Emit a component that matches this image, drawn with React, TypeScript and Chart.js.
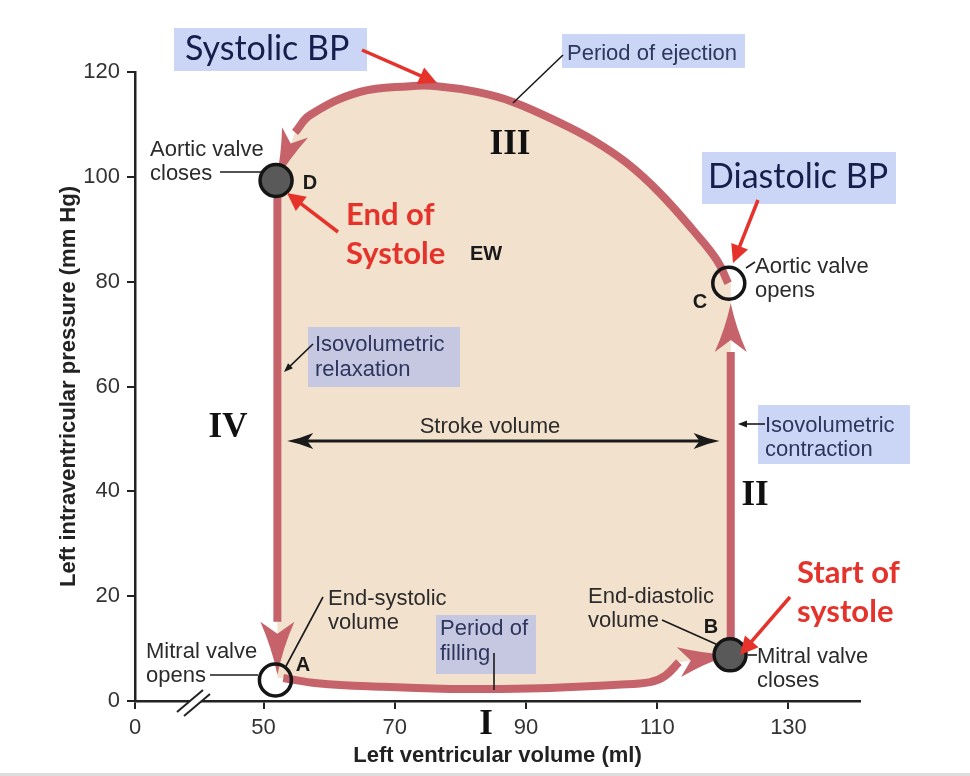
import React, { useEffect, useRef } from 'react';
import { Chart, registerables } from 'chart.js';

Chart.register(...registerables);

// ---------- axis ----------
const xAxisMin = 30.4; // broken-axis origin, labelled "0"
const xAxisMax = 140.9;
const xTickValues = [30.4, 50, 70, 90, 110, 130];
const xTickLabels = ['0', '50', '70', '90', '110', '130'];
const yAxisMin = 0;
const yAxisMax = 120;
const yTickStep = 20;

// ---------- valve events (A, B, C, D) ----------
const valveLabels = ['A', 'B', 'C', 'D'];
const valveVolume = [51.8, 121.1, 120.9, 51.9];
const valvePressure = [4.0, 8.8, 79.7, 99.3];
const valveClosed = [false, true, false, true];

// ---------- phase I: filling (A -> B) ----------
const fillingVolume = [53.0, 58.2, 68.2, 78.4, 85.3, 93.7, 103.9, 108.9, 111.2, 113.3];
const fillingPressure = [4.4, 3.4, 2.7, 2.3, 2.3, 2.5, 3.1, 3.6, 4.8, 7.4];

// ---------- phase II: isovolumetric contraction (B -> C) ----------
const contractionVolume = 121.2;
const contractionPressure = [8.8, 66.6];
const contractionArrowTip = 75.9;

// ---------- phase III: ejection (C -> D) ----------
const ejectionVolume = [120.8, 119.1, 115.4, 110.4, 105.4, 100.2, 95.2, 88.0, 82.5, 76.4, 72.3, 64.7, 57.1, 54.8];
const ejectionPressure = [79.7, 84.1, 89.9, 96.9, 102.6, 107.0, 110.3, 114.3, 116.2, 117.3, 117.3, 116.2, 111.8, 108.5];

// ---------- phase IV: isovolumetric relaxation (D -> A) ----------
const relaxationVolume = 52.1;
const relaxationPressure = [99.3, 15.1];
const relaxationArrowTip = 5.0;

// ---------- stroke volume ----------
const strokeVolumeRange = [53.6, 119.5];
const strokeVolumePressure = 49.6;

// ---------- styles ----------
const LOOP_COLOR = '#C6626A';
const FILL_COLOR = '#F2E1CC';
const RED = '#E5332C';
const NAVY = '#161E4C';
const BOX_TEXT = '#2E365E';
const LABEL_TEXT = '#2b2b2b';
const BOX_FILL = 'rgba(160,180,240,0.55)';
const AXIS_COLOR = '#222222';
const SANS = '"Liberation Sans", Arial, sans-serif';

function harpoon(ctx: CanvasRenderingContext2D, bx: number, by: number, tx: number, ty: number, halfW: number, notch: number, color: string) {
  const dx = tx - bx, dy = ty - by;
  const len = Math.hypot(dx, dy);
  const ux = dx / len, uy = dy / len;
  const nx = -uy, ny = ux;
  const b1x = bx + nx * halfW, b1y = by + ny * halfW;
  const b2x = bx - nx * halfW, b2y = by - ny * halfW;
  const mx = bx + ux * notch, my = by + uy * notch;
  const cx = tx - ux * len * 0.5, cy = ty - uy * len * 0.5;
  const c1x = cx + nx * halfW * 0.32, c1y = cy + ny * halfW * 0.32;
  const c2x = cx - nx * halfW * 0.32, c2y = cy - ny * halfW * 0.32;
  ctx.save();
  ctx.fillStyle = color;
  ctx.beginPath();
  ctx.moveTo(tx, ty);
  ctx.quadraticCurveTo(c1x, c1y, b1x, b1y);
  ctx.lineTo(mx, my);
  ctx.lineTo(b2x, b2y);
  ctx.quadraticCurveTo(c2x, c2y, tx, ty);
  ctx.closePath();
  ctx.fill();
  ctx.restore();
}

function arrowLine(ctx: CanvasRenderingContext2D, x1: number, y1: number, x2: number, y2: number, color: string, width: number, headLen: number, headHalf: number) {
  const dx = x2 - x1, dy = y2 - y1;
  const len = Math.hypot(dx, dy);
  const ux = dx / len, uy = dy / len;
  ctx.save();
  ctx.strokeStyle = color;
  ctx.lineWidth = width;
  ctx.beginPath();
  ctx.moveTo(x1, y1);
  ctx.lineTo(x2 - ux * headLen * 0.7, y2 - uy * headLen * 0.7);
  ctx.stroke();
  ctx.fillStyle = color;
  ctx.beginPath();
  ctx.moveTo(x2, y2);
  ctx.lineTo(x2 - ux * headLen - uy * headHalf, y2 - uy * headLen + ux * headHalf);
  ctx.lineTo(x2 - ux * headLen + uy * headHalf, y2 - uy * headLen - ux * headHalf);
  ctx.closePath();
  ctx.fill();
  ctx.restore();
}

function line(ctx: CanvasRenderingContext2D, x1: number, y1: number, x2: number, y2: number, color: string, width: number) {
  ctx.save();
  ctx.strokeStyle = color;
  ctx.lineWidth = width;
  ctx.beginPath();
  ctx.moveTo(x1, y1);
  ctx.lineTo(x2, y2);
  ctx.stroke();
  ctx.restore();
}

function txt(ctx: CanvasRenderingContext2D, s: string, x: number, y: number, font: string, color: string, align: CanvasTextAlign = 'left', baseline: CanvasTextBaseline = 'alphabetic') {
  ctx.save();
  ctx.font = font;
  ctx.fillStyle = color;
  ctx.textAlign = align;
  ctx.textBaseline = baseline;
  ctx.fillText(s, x, y);
  ctx.restore();
}

export default function App() {
  const ref = useRef<HTMLCanvasElement>(null);

  useEffect(() => {
    const canvas = ref.current;
    if (!canvas) return;
    const pt = (x: number, y: number) => ({ x, y });

    const fillingData = fillingVolume.map((v, i) => pt(v, fillingPressure[i]));
    const contractionData = contractionPressure.map((p) => pt(contractionVolume, p));
    const ejectionData = ejectionVolume.map((v, i) => pt(v, ejectionPressure[i]));
    const relaxationData = relaxationPressure.map((p) => pt(relaxationVolume, p));
    const valveData = valveVolume.map((v, i) => pt(v, valvePressure[i]));
    const loopShape = [
      pt(relaxationVolume, fillingPressure[0]),
      ...fillingData,
      pt(contractionVolume, valvePressure[1]),
      pt(contractionVolume, valvePressure[2]),
      ...ejectionData,
      pt(relaxationVolume, valvePressure[3]),
    ];

    const arrowTips: Record<number, { x: number; y: number; halfW: number }> = {
      1: { ...pt(valveVolume[1], valvePressure[1]), halfW: 15 },
      2: { ...pt(contractionVolume, contractionArrowTip), halfW: 16 },
      3: { ...pt(valveVolume[3], valvePressure[3]), halfW: 14 },
      4: { ...pt(relaxationVolume, relaxationArrowTip), halfW: 17 },
    };

    const loopArrowPlugin = {
      id: 'loopArrows',
      afterDatasetDraw(chart: any, args: any) {
        const tip = arrowTips[args.index];
        if (!tip) return;
        const data = chart.data.datasets[args.index].data;
        const last = data[data.length - 1];
        const xs = chart.scales.x, ys = chart.scales.y;
        harpoon(chart.ctx, xs.getPixelForValue(last.x), ys.getPixelForValue(last.y), xs.getPixelForValue(tip.x), ys.getPixelForValue(tip.y), tip.halfW, 12, LOOP_COLOR);
      },
    };

    const annotationPlugin = {
      id: 'annotations',
      afterDatasetsDraw(chart: any) {
        const ctx: CanvasRenderingContext2D = chart.ctx;
        const xs = chart.scales.x, ys = chart.scales.y;

        // axis break
        ctx.save();
        ctx.fillStyle = '#ffffff';
        ctx.beginPath();
        ctx.moveTo(177, 712); ctx.lineTo(203, 690); ctx.lineTo(210, 694); ctx.lineTo(184, 716); ctx.closePath();
        ctx.fill();
        ctx.restore();
        line(ctx, 177, 712, 203, 690, AXIS_COLOR, 2);
        line(ctx, 184, 716, 210, 694, AXIS_COLOR, 2);

        // stroke volume double arrow
        const sy = ys.getPixelForValue(strokeVolumePressure);
        const sx1 = xs.getPixelForValue(strokeVolumeRange[0]);
        const sx2 = xs.getPixelForValue(strokeVolumeRange[1]);
        line(ctx, sx1 + 12, sy, sx2 - 12, sy, '#1a1a1a', 3);
        harpoon(ctx, sx1 + 26, sy, sx1, sy, 8, 6, '#1a1a1a');
        harpoon(ctx, sx2 - 26, sy, sx2, sy, 8, 6, '#1a1a1a');
        txt(ctx, 'Stroke volume', 490, 433, `22px ${SANS}`, LABEL_TEXT, 'center');

        // label boxes
        const boxes = [
          [174, 28, 193, 43],
          [562, 34, 183, 34],
          [702, 152, 194, 52],
          [308, 327, 152, 60],
          [758, 405, 152, 59],
          [436, 615, 100, 59],
        ];
        ctx.save();
        ctx.fillStyle = BOX_FILL;
        boxes.forEach(([x, y, w, h]) => ctx.fillRect(x, y, w, h));
        ctx.restore();

        // leader lines
        line(ctx, 220, 172, 262, 172, '#1a1a1a', 1.6);
        line(ctx, 563, 55, 513, 103, '#1a1a1a', 1.6);
        line(ctx, 746, 268, 755, 262, '#1a1a1a', 1.6);
        line(ctx, 323, 597, 285, 668, '#1a1a1a', 1.6);
        line(ctx, 210, 675, 258, 675, '#1a1a1a', 1.6);
        line(ctx, 494, 653, 494, 690, '#1a1a1a', 1.6);
        line(ctx, 662, 620, 718, 645, '#1a1a1a', 1.6);
        line(ctx, 748, 655, 757, 655, '#1a1a1a', 1.6);
        arrowLine(ctx, 313, 344, 284, 372, '#1a1a1a', 1.6, 9, 3.5);
        arrowLine(ctx, 765, 424, 738, 424, '#1a1a1a', 1.6, 9, 3.5);

        // box texts
        const bf = `22px ${SANS}`;
        txt(ctx, 'Period of ejection', 567, 60, bf, BOX_TEXT);
        txt(ctx, 'Isovolumetric', 315, 351, bf, BOX_TEXT);
        txt(ctx, 'relaxation', 315, 376, bf, BOX_TEXT);
        txt(ctx, 'Isovolumetric', 765, 432, bf, BOX_TEXT);
        txt(ctx, 'contraction', 765, 456, bf, BOX_TEXT);
        txt(ctx, 'Period of', 440, 635, bf, BOX_TEXT);
        txt(ctx, 'filling', 440, 660, bf, BOX_TEXT);

        // plain labels
        txt(ctx, 'Aortic valve', 150, 156, bf, LABEL_TEXT);
        txt(ctx, 'closes', 150, 180, bf, LABEL_TEXT);
        txt(ctx, 'Aortic valve', 755, 273, bf, LABEL_TEXT);
        txt(ctx, 'opens', 755, 297, bf, LABEL_TEXT);
        txt(ctx, 'Mitral valve', 146, 658, bf, LABEL_TEXT);
        txt(ctx, 'opens', 146, 682, bf, LABEL_TEXT);
        txt(ctx, 'End-systolic', 328, 605, bf, LABEL_TEXT);
        txt(ctx, 'volume', 328, 629, bf, LABEL_TEXT);
        txt(ctx, 'End-diastolic', 588, 603, bf, LABEL_TEXT);
        txt(ctx, 'volume', 588, 627, bf, LABEL_TEXT);
        txt(ctx, 'Mitral valve', 757, 663, bf, LABEL_TEXT);
        txt(ctx, 'closes', 757, 687, bf, LABEL_TEXT);

        // point letters
        const lf = `bold 20px ${SANS}`;
        txt(ctx, 'A', 303, 665, lf, '#1a1a1a', 'center', 'middle');
        txt(ctx, 'B', 711, 627, lf, '#1a1a1a', 'center', 'middle');
        txt(ctx, 'C', 700, 302, lf, '#1a1a1a', 'center', 'middle');
        txt(ctx, 'D', 310, 183, lf, '#1a1a1a', 'center', 'middle');
        txt(ctx, 'EW', 486, 254, lf, '#1a1a1a', 'center', 'middle');

        // phase numerals
        const rf = 'bold 35px "Liberation Serif", "Times New Roman", serif';
        txt(ctx, 'III', 510, 145, rf, '#111', 'center', 'middle');
        txt(ctx, 'IV', 228, 428, rf, '#111', 'center', 'middle');
        txt(ctx, 'II', 755, 496, rf, '#111', 'center', 'middle');
        txt(ctx, 'I', 486, 725, rf, '#111', 'center', 'middle');

        // big callouts
        const nf = '34px Lato, "Noto Sans", sans-serif';
        txt(ctx, 'Systolic BP', 185, 60, nf, NAVY);
        txt(ctx, 'Diastolic BP', 708, 188, nf, NAVY);
        const redf = 'bold 31px Lato, "Noto Sans", sans-serif';
        txt(ctx, 'End of', 346, 225, redf, RED);
        txt(ctx, 'Systole', 346, 264, redf, RED);
        txt(ctx, 'Start of', 797, 583, redf, RED);
        txt(ctx, 'systole', 797, 622, redf, RED);

        // red arrows
        arrowLine(ctx, 362, 50, 437, 83, RED, 3.5, 18, 9);
        arrowLine(ctx, 338, 232, 287, 193, RED, 3.5, 18, 9);
        arrowLine(ctx, 758, 200, 733, 263, RED, 3.5, 18, 9);
        arrowLine(ctx, 790, 597, 740, 655, RED, 3.5, 18, 9);

        // bottom frame strip
        ctx.save();
        ctx.fillStyle = '#dcdcdc';
        ctx.fillRect(0, 773, chart.width, 3);
        ctx.restore();
      },
    };

    const lineDs = (data: any[]) => ({
      data,
      borderColor: LOOP_COLOR,
      borderWidth: 8,
      tension: 0.4,
      pointRadius: 0,
      pointHoverRadius: 0,
      fill: false,
      borderCapStyle: 'butt',
      borderJoinStyle: 'round',
    });

    const chart = new Chart(canvas, {
      type: 'line',
      data: {
        datasets: [
          {
            label: 'Valves',
            data: valveData,
            showLine: false,
            pointRadius: 16,
            pointHoverRadius: 16,
            pointBackgroundColor: valveClosed.map((c) => (c ? '#595959' : 'rgba(0,0,0,0)')),
            pointBorderColor: '#151515',
            pointBorderWidth: 3.5,
            pointHoverBorderWidth: 3.5,
          } as any,
          { label: 'Filling', ...lineDs(fillingData) } as any,
          { label: 'Isovolumetric contraction', ...lineDs(contractionData) } as any,
          { label: 'Ejection', ...lineDs(ejectionData) } as any,
          { label: 'Isovolumetric relaxation', ...lineDs(relaxationData) } as any,
          {
            label: 'Loop area',
            data: loopShape,
            borderWidth: 0,
            borderColor: 'rgba(0,0,0,0)',
            backgroundColor: FILL_COLOR,
            fill: 'shape',
            tension: 0,
            pointRadius: 0,
            pointHoverRadius: 0,
          } as any,
        ],
      },
      options: {
        animation: false,
        responsive: false,
        devicePixelRatio: 1,
        events: [],
        layout: { padding: { left: 0, top: 72, right: 110, bottom: 0 } },
        plugins: {
          legend: { display: false },
          tooltip: { enabled: false },
        },
        scales: {
          x: {
            type: 'linear',
            min: xAxisMin,
            max: xAxisMax,
            afterBuildTicks: (scale: any) => {
              scale.ticks = xTickValues.map((v) => ({ value: v }));
            },
            afterFit: (scale: any) => {
              scale.height = 75;
            },
            ticks: {
              autoSkip: false,
              maxRotation: 0,
              padding: 6,
              color: '#333',
              font: { family: 'Liberation Sans', size: 22 },
              callback: (_v: any, i: number) => xTickLabels[i],
            },
            grid: { display: true, drawOnChartArea: false, drawTicks: true, tickLength: 8, color: AXIS_COLOR, lineWidth: 2 },
            border: { display: true, color: AXIS_COLOR, width: 2.5 },
            title: {
              display: true,
              text: 'Left ventricular volume (ml)',
              color: '#222',
              font: { family: 'Liberation Sans', size: 22, weight: 'bold' },
              padding: { top: 0, bottom: 7 },
            },
          },
          y: {
            type: 'linear',
            min: yAxisMin,
            max: yAxisMax,
            afterFit: (scale: any) => {
              scale.width = 135;
            },
            ticks: {
              stepSize: yTickStep,
              padding: 7,
              color: '#333',
              font: { family: 'Liberation Sans', size: 22 },
            },
            grid: { display: true, drawOnChartArea: false, drawTicks: true, tickLength: 8, color: AXIS_COLOR, lineWidth: 2 },
            border: { display: true, color: AXIS_COLOR, width: 2.5 },
            title: {
              display: true,
              text: 'Left intraventricular pressure (mm Hg)',
              color: '#222',
              font: { family: 'Liberation Sans', size: 22, weight: 'bold' },
              padding: { top: 56, bottom: 0 },
            },
          },
        },
      } as any,
      plugins: [loopArrowPlugin, annotationPlugin],
    });

    return () => chart.destroy();
  }, []);

  return (
    <div style={{ position: 'fixed', left: 0, top: 0, width: 970, height: 776, background: '#ffffff' }}>
      <canvas ref={ref} width={970} height={776} style={{ width: 970, height: 776, display: 'block' }} />
    </div>
  );
}
